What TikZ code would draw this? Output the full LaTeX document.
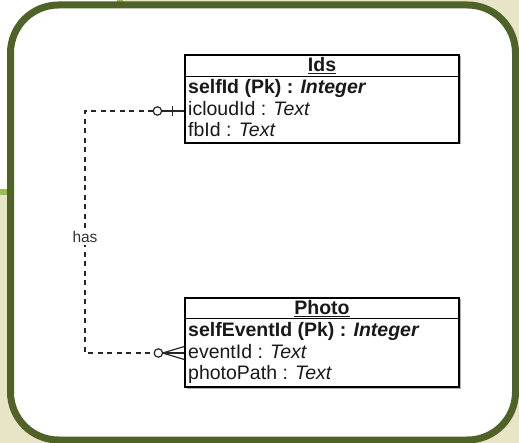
\documentclass[tikz,border=0pt]{standalone}
\usepackage{fontspec}
\setmainfont{Liberation Sans}
\usetikzlibrary{shadows,calc}
\definecolor{frameolive}{HTML}{4F6228}
\definecolor{bgbeige}{HTML}{E8E5C6}
\definecolor{bggreen}{HTML}{9BBB59}
\tikzset{
  tablebox/.style={draw=black, line width=1.2pt, fill=white, inner sep=0pt,
    minimum width=274pt, drop shadow={shadow xshift=1.5pt, shadow yshift=-1.5pt, fill=black, opacity=0.3}},
  rowtext/.style={anchor=base west, inner sep=0pt, font=\fontsize{19.5}{21}\selectfont, text=black!90},
  titletext/.style={anchor=base, inner sep=0pt, font=\fontsize{19.5}{21}\selectfont\bfseries, text=black!90},
  conn/.style={line width=1.2pt, draw=black!85},
  dashconn/.style={conn, dash pattern=on 5pt off 4.5pt},
  lbl/.style={anchor=base, fill=white, inner sep=1.5pt, font=\fontsize{15.5}{15.5}\selectfont, text=black!80}
}
\begin{document}
\begin{tikzpicture}[x=1pt,y=-1pt]
\useasboundingbox (0,0) rectangle (519,443);
% background
\fill[bgbeige] (0,0) rectangle (519,443);
\fill[bggreen] (0,0) rectangle (123,195);
\fill[white] (0,0) rectangle (117,189);
\draw[frameolive, line width=7pt, fill=white, rounded corners=48pt] (10.5,5) rectangle (515.5,440);

% Ids table
\node[tablebox, minimum height=88pt] (ids) at (322,99) {};
\coordinate (idsdivL) at ($(ids.north west)+(0,22)$);
\coordinate (idsdivR) at ($(ids.north east)+(0,22)$);
\draw[line width=1.2pt] (idsdivL) -- (idsdivR);
\node[titletext] (idst) at (322,72) {\underline{Ids}};
\node[rowtext] (ids1) at (188,94) {\bfseries selfId (Pk) : \textit{Integer}};
\node[rowtext] (ids2) at (188,116) {icloudId : \textit{Text}};
\node[rowtext] (ids3) at (188,137) {fbId : \textit{Text}};

% Photo table
\node[tablebox, minimum height=89pt] (photo) at (322,342.5) {};
\coordinate (phdivL) at ($(photo.north west)+(0,21)$);
\coordinate (phdivR) at ($(photo.north east)+(0,21)$);
\draw[line width=1.2pt] (phdivL) -- (phdivR);
\node[titletext] (pht) at (322,315) {\underline{Photo}};
\node[rowtext] (ph1) at (188,337) {\bfseries selfEventId (Pk) : \textit{Integer}};
\node[rowtext] (ph2) at (188,358.5) {eventId : \textit{Text}};
\node[rowtext] (ph3) at (188,379) {photoPath : \textit{Text}};

% connector anchors
\coordinate (pa) at ($(ids.west)+(0,12)$);
\coordinate (pb) at ($(photo.west)+(0,10.5)$);
\coordinate (ca) at ($(pa)+(-27,0)$);
\coordinate (cb) at ($(pb)+(-26,0)$);
\coordinate (bend1) at (85,111);
\coordinate (bend2) at (85,353);

% Ids end: one (optional)
\draw[conn] (pa) -- ($(ca)+(4.2,0)$);
\draw[conn] ($(pa)+(-12,-5)$) -- ($(pa)+(-12,5)$);
\draw[conn] (ca) circle (4.2pt);
% Photo end: many (optional)
\draw[conn] ($(cb)+(4.2,0)$) -- (pb);
\draw[conn] ($(cb)+(4.2,0)$) -- ($(pb)+(0,-6.5)$);
\draw[conn] ($(cb)+(4.2,0)$) -- ($(pb)+(0,6.5)$);
\draw[conn] (cb) circle (4.2pt);
% dashed relation
\draw[dashconn] ($(ca)+(-4.2,0)$) -- (bend1) -- (bend2) -- ($(cb)+(-4.2,0)$);
\node[lbl] (has) at (85,243) {has};
\end{tikzpicture}
\end{document}
